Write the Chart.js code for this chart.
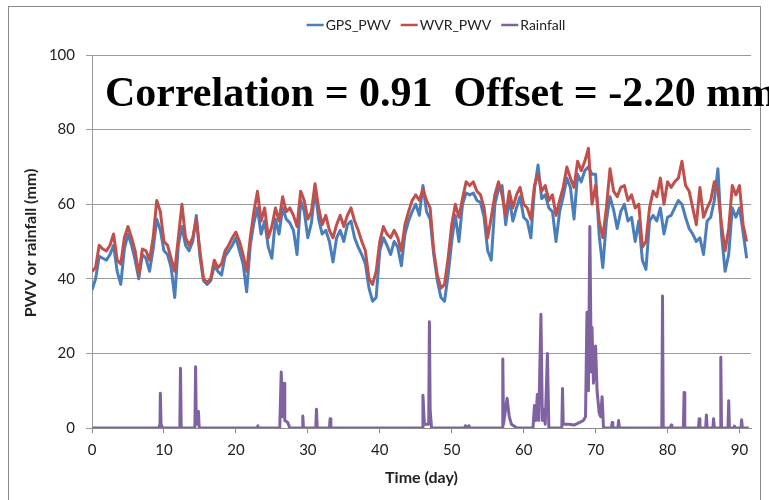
<!DOCTYPE html>
<html>
<head>
<meta charset="utf-8">
<script src="https://cdn.jsdelivr.net/npm/chart.js@4.4.1/dist/chart.umd.min.js"></script>
<style>
html,body{margin:0;padding:0;background:#fff;}
#wrap{width:769px;height:500px;}
</style>
</head>
<body>
<div id="wrap"><canvas id="c" width="769" height="500"></canvas></div>
<script>
// PWV samples every half day, day 0 .. 91
const STEP = 0.5;
const wvrPwv = [42,43,49,48,47.5,49,52,45,44,51,54,51,47.5,41,48,47.5,45,51,61,58,
  50,49,45.5,42,51,60,51,49,51,56,47.5,40,39,40,45,43,44,47.5,49,51,
  52.5,50,46.5,42,51,58,63.5,55.5,59,51,54,59,55.5,62,58,59,57,54,63.5,61,
  56,58,65.5,59,54.5,57,53,51,54.5,57,54,57,59,55.5,53,50,47.5,40,38.5,42,
  50,54,52,51,53,51,47.5,54.5,58,61,62.5,61,64,61,59,47.5,41,37.5,38.5,45.5,
  54.5,60,56.5,61.5,66,65,66,63.5,62.5,59,51,56.5,62.5,66,62.5,57,63.5,59,62.5,64.5,
  60,59,56,65,68,63.5,65,61,62.5,57,61,64.5,70,67,64.5,71.5,69,71.5,75,60,
  65,55.5,51,59,69.5,63.5,62,64.5,65,61,62.5,59,60,48.5,50,59,63.5,62,67,60,
  66,64.5,66,67,71.5,65,63.5,59,54.5,64.5,56.5,59,61,66,63.5,54.5,47.5,53.5,65,62.5,
  65,54.5,50];
const gpsPwv = [37,40,46,45.5,45,46.5,49,42,38.5,48,52,49,45,40,46.5,45.5,42,48,56,53,
  47.5,46.5,43,35,49,54,49,47.5,50,57,46,39.5,38.5,39.5,43.5,42,41,46,47.5,49,
  51,47.5,44,36.5,49,55,59,52,55.5,48.5,45.5,56,52,59,56,55,53,46.5,61,58,
  51,55,64,56,52,53,50,44.5,51,53,50,54.5,55.5,51,48.5,46.5,44,37.5,34,35,
  47.5,51,49,46.5,50,48.5,43.5,52,55.5,58,60,57,65,58,56,46.5,39.5,35,34,41,
  50,57,50,60,63,62.5,63,61,60.5,56.5,47.5,45,60,64,65,54.5,61.5,55.5,59,62,
  56.5,55.5,51,64,70.5,61.5,62.5,59,58,50,58,62,67,64.5,56,68,66,69,70,68,
  68,51.5,43,55.5,62,58.5,53.5,58,60,55.5,56.5,50,55.5,45,42.5,55.5,57,55.5,59,52,
  56.5,57,59,61,60,56.5,53.5,52,50,51,46.5,55.5,56.5,61,69.5,52,42,46.5,59,56.5,
  59,52.5,45.5];

// rainfall events (day, mm)
const rainDays = [0,9.3,9.45,9.5,9.6,9.8,12.2,12.3,12.4,14.3,14.4,14.5,14.8,14.9,
  23.0,23.05,23.1,26.1,26.3,26.5,26.7,26.8,27.2,27.5,29.2,29.3,29.4,31.1,31.2,31.3,33.0,33.1,33.2,
  45.9,46.0,46.2,46.8,46.9,47.0,47.2,51.8,51.9,52.0,52.4,52.5,
  57.0,57.1,57.2,57.7,58.0,58.3,58.7,59.1,
  61.3,61.5,61.7,61.9,62.1,62.4,62.6,62.8,63.0,63.3,63.5,
  65.3,65.4,65.5,66.3,67.0,67.8,68.3,68.6,68.8,69.0,69.2,69.4,69.5,69.7,70.0,70.2,70.5,70.7,70.9,71.1,
  72.2,72.3,72.4,73.1,73.2,73.3,79.2,79.3,79.4,80.4,80.5,80.6,82.2,82.3,82.4,
  84.3,84.4,84.5,85.3,85.4,85.5,86.3,86.4,86.5,87.3,87.4,87.5,88.4,88.5,88.6,
  89.2,89.3,89.4,90.2,90.3,90.4,91.3];
const rainMm = [0,0,1,9.3,1,0,0,16,0,0,16.4,1,4.4,0,
  0,0.6,0,0,15,3,12,2,1.5,0,0,3.2,0,0,5,0,0,2.5,0,
  0,8.8,1,1,28.5,5,0,0,0.6,0,0.6,0,
  0,18.5,1,8,3,1,0.5,0,
  0,6,2,9,2,30.5,2,5,1,20,0,
  0,10.6,1,1,0.8,1.5,2,3,31,10,54,15,27,12,22,10,4,3,8.4,0,
  0,1.5,0,0,2,0,0,35.4,0,0,0.8,0,0,9.5,0,
  0,2.5,0,0,3.5,0,0,2.5,0,0,19,0,0,7.3,0,
  0,0.5,0,0,2.2,0,0];

const seriesNames = ['GPS_PWV', 'WVR_PWV', 'Rainfall'];
const seriesColors = ['#4a7ebb', '#c0504d', '#7f62a1'];
const xTicks = [0, 10, 20, 30, 40, 50, 60, 70, 80, 90];
const yTicks = [0, 20, 40, 60, 80, 100];
const noteText = 'Correlation = 0.91  Offset = -2.20 mm';
const xTitle = 'Time (day)';
const yTitle = 'PWV or rainfall (mm)';

const FONT = 'Lato, "Open Sans", sans-serif';

const pts = arr => arr.map((v, i) => ({ x: i * STEP, y: v }));
const rainPts = rainDays.map((d, i) => ({ x: d, y: rainMm[i] }));

const decor = {
  id: 'decor',
  beforeDraw(chart) {
    const ctx = chart.ctx;
    ctx.save();
    ctx.fillStyle = '#fff';
    ctx.fillRect(0, 0, chart.width, chart.height);
    ctx.restore();
  },
  afterDraw(chart) {
    const ctx = chart.ctx, ca = chart.chartArea;
    ctx.save();
    // chart frame
    ctx.strokeStyle = '#8a8a8a'; ctx.lineWidth = 1;
    ctx.strokeRect(8.5, 6.5, 752, 510);
    // legend
    ctx.font = '14px ' + FONT;
    ctx.textBaseline = 'middle';
    const lineLen = 17, gap = 2, sep = 10;
    let total = 0;
    seriesNames.forEach((n, i) => { total += lineLen + gap + ctx.measureText(n).width + (i < 2 ? sep : 0); });
    let lx = 436 - total / 2;
    seriesNames.forEach((n, i) => {
      ctx.strokeStyle = seriesColors[i]; ctx.lineWidth = 2.5;
      ctx.beginPath(); ctx.moveTo(lx, 25); ctx.lineTo(lx + lineLen, 25); ctx.stroke();
      lx += lineLen + gap;
      ctx.fillStyle = '#222'; ctx.textAlign = 'left';
      ctx.fillText(n, lx, 25);
      lx += ctx.measureText(n).width + sep;
    });
    // axis titles
    ctx.font = 'bold 16px ' + FONT;
    ctx.textAlign = 'center';
    ctx.fillText(xTitle, (ca.left + ca.right) / 2, 478);
    ctx.translate(31, 243); ctx.rotate(-Math.PI / 2);
    ctx.fillText(yTitle, 0, 0);
    ctx.restore();
    // annotation
    ctx.save();
    ctx.font = 'bold 42px "Liberation Serif", "DejaVu Serif", serif';
    ctx.fillStyle = '#000'; ctx.textAlign = 'left'; ctx.textBaseline = 'alphabetic';
    ctx.fillText(noteText, 105, 106);
    ctx.restore();
  }
};

new Chart(document.getElementById('c'), {
  type: 'line',
  data: {
    datasets: [
      { label: seriesNames[2], data: rainPts, borderColor: seriesColors[2], borderWidth: 3, order: 1 },
      { label: seriesNames[1], data: pts(wvrPwv), borderColor: seriesColors[1], borderWidth: 3, order: 2 },
      { label: seriesNames[0], data: pts(gpsPwv), borderColor: seriesColors[0], borderWidth: 3, order: 3 }
    ]
  },
  options: {
    responsive: false,
    devicePixelRatio: 1,
    animation: false,
    parsing: false,
    layout: { padding: { left: 20, top: 55, right: 18, bottom: 0 } },
    elements: {
      point: { radius: 0 },
      line: { tension: 0, fill: false, borderJoinStyle: 'round' }
    },
    plugins: { legend: { display: false }, tooltip: { enabled: false } },
    scales: {
      x: {
        type: 'linear', min: 0, max: 91.6,
        afterBuildTicks: s => { s.ticks = xTicks.map(v => ({ value: v })); },
        afterFit: s => { s.height = 72; },
        grid: { drawOnChartArea: false, drawTicks: true, tickLength: 5, color: '#8a8a8a' },
        border: { color: '#8a8a8a' },
        ticks: { font: { size: 15, family: FONT }, color: '#222', padding: 8, maxRotation: 0 }
      },
      y: {
        min: 0, max: 100,
        afterBuildTicks: s => { s.ticks = yTicks.map(v => ({ value: v })); },
        afterFit: s => { s.width = 72; },
        grid: { color: '#9a9a9a', tickLength: 6 },
        border: { color: '#9a9a9a' },
        ticks: { font: { size: 15, family: FONT }, color: '#222', padding: 11 }
      }
    }
  },
  plugins: [decor]
});
</script>
</body>
</html>
